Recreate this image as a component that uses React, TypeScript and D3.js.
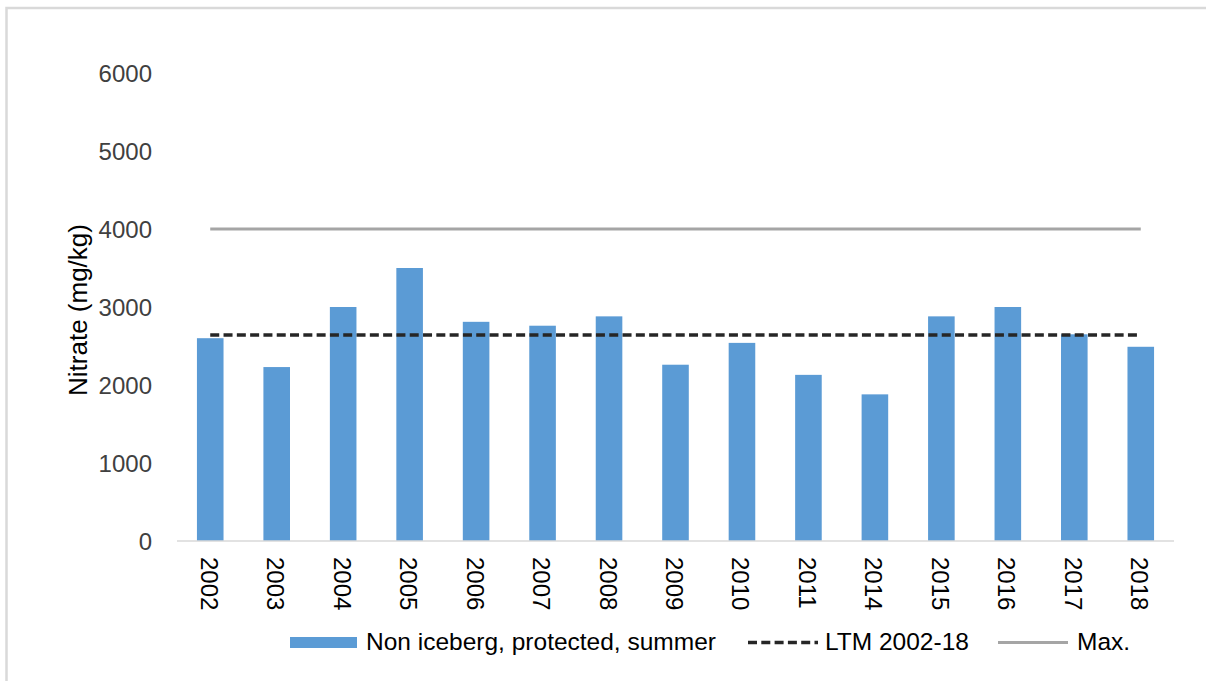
import React from "react";
import * as d3 from "d3";

const years = ["2002", "2003", "2004", "2005", "2006", "2007", "2008", "2009", "2010", "2011", "2014", "2015", "2016", "2017", "2018"];
const nitrate = [2600, 2230, 3000, 3500, 2810, 2760, 2880, 2260, 2540, 2130, 1880, 2880, 3000, 2650, 2490];
const ltm = 2640;
const maxValue = 4000;
const yTicks = [0, 1000, 2000, 3000, 4000, 5000, 6000];
const seriesNames = ["Non iceberg, protected, summer", "LTM 2002-18", "Max."];

const W = 1206;
const H = 681;
const FONT = "'Liberation Sans', Arial, sans-serif";
const TEXT = "#404040";

export default function App() {
  const x = d3.scaleBand<string>().domain(years).range([177, 1174]).padding(0);
  const y = d3.scaleLinear().domain([0, 6000]).range([541, 73]);
  const bw = x.step() * 0.4;
  const cx = (d: string) => (x(d) as number) + x.bandwidth() / 2;
  const x0 = cx(years[0]);
  const x1 = cx(years[years.length - 1]);
  const hLine = d3.line<[number, number]>().x((d) => d[0]).y((d) => d[1]);

  return (
    <svg width={W} height={H} style={{ position: "absolute", left: 0, top: 0, background: "#fff" }} fontFamily={FONT}>
      <rect x={6.5} y={8} width={1220} height={700} fill="#fff" stroke="#d9d9d9" strokeWidth={2.5} />
      {/* y tick labels */}
      {yTicks.map((t) => (
        <text key={t} x={152} y={y(t)} textAnchor="end" dominantBaseline="central" fontSize={24} fill={TEXT}>
          {t}
        </text>
      ))}
      {/* y title */}
      <text
        transform={`translate(78,${(y(0) + y(6000)) / 2 + 3}) rotate(-90)`}
        textAnchor="middle"
        dominantBaseline="central"
        fontSize={26}
        fill="#000"
      >
        Nitrate (mg/kg)
      </text>
      {/* bars */}
      {years.map((yr, i) => (
        <rect
          key={yr}
          x={cx(yr) - bw / 2}
          y={y(nitrate[i])}
          width={bw}
          height={y(0) - y(nitrate[i])}
          fill="#5b9bd5"
        />
      ))}
      {/* x axis line */}
      <line x1={177} x2={1174} y1={y(0)} y2={y(0)} stroke="#d9d9d9" strokeWidth={1.5} />
      {/* max line */}
      <path d={hLine([[x0, y(maxValue)], [x1, y(maxValue)]]) || ""} stroke="#a5a5a5" strokeWidth={3} fill="none" />
      {/* LTM line */}
      <path
        d={hLine([[x0, y(ltm)], [x1, y(ltm)]]) || ""}
        stroke="#262626"
        strokeWidth={3.5}
        strokeDasharray="9,4.3"
        fill="none"
      />
      {/* x labels */}
      {years.map((yr) => (
        <text
          key={yr}
          transform={`translate(${cx(yr) - 1},557) rotate(90)`}
          textAnchor="start"
          dominantBaseline="central"
          fontSize={24}
          fill="#000"
        >
          {yr}
        </text>
      ))}
      {/* legend */}
      <rect x={290} y={637} width={67} height={11} fill="#5b9bd5" />
      <text x={366} y={650} fontSize={24.5} fill="#000">{seriesNames[0]}</text>
      <line x1={748} x2={818} y1={642.5} y2={642.5} stroke="#262626" strokeWidth={3.5} strokeDasharray="9,4.3" />
      <text x={825} y={650} fontSize={24.5} fill="#000">{seriesNames[1]}</text>
      <line x1={998} x2={1068} y1={642.5} y2={642.5} stroke="#a5a5a5" strokeWidth={3} />
      <text x={1077} y={650} fontSize={24.5} fill="#000">{seriesNames[2]}</text>
    </svg>
  );
}
